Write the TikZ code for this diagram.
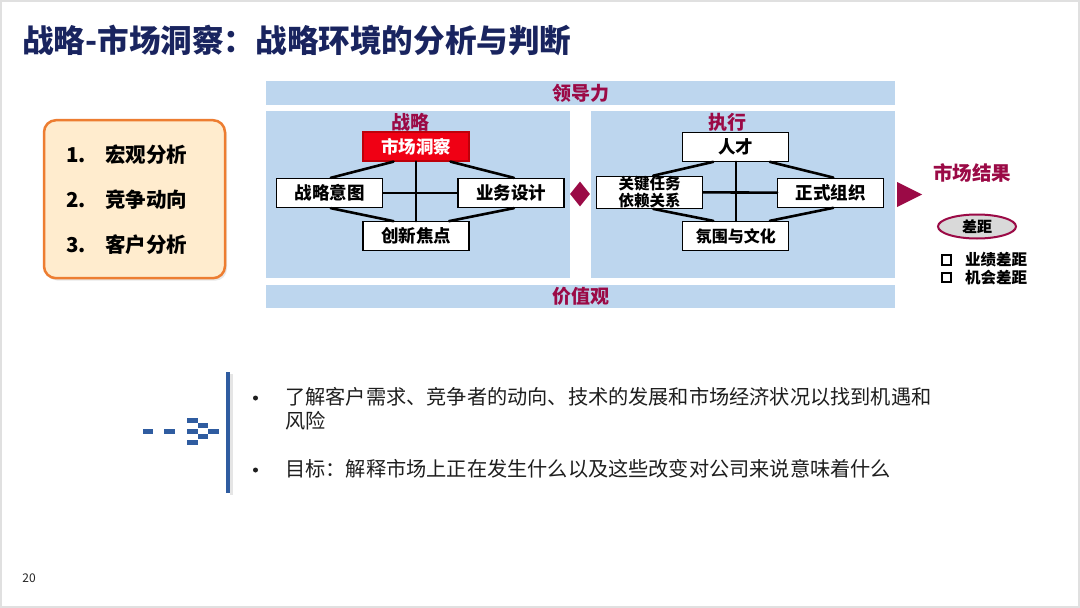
\documentclass[tikz,border=0pt]{standalone}
\usepackage{fontspec}
\setmainfont{Noto Sans CJK SC}
\usetikzlibrary{shapes.geometric,shadows}
\definecolor{navy}{RGB}{25,36,95}
\definecolor{maroon}{RGB}{155,10,70}
\definecolor{band}{RGB}{189,214,238}
\definecolor{peach}{RGB}{255,236,206}
\definecolor{orng}{RGB}{237,125,49}
\definecolor{redbox}{RGB}{240,0,20}
\definecolor{darkred}{RGB}{190,0,10}
\definecolor{blueline}{RGB}{47,92,160}
\definecolor{bodytxt}{RGB}{30,30,30}
\begin{document}
\begin{tikzpicture}[x=1pt,y=-1pt,
  box/.style={draw=black,line width=1.3pt,fill=white,minimum width=106pt,minimum height=29pt,inner sep=0pt,font=\bfseries\fontsize{17.5}{20}\selectfont},
  redb/.style={box,fill=redbox,draw=darkred,text=white},
  link/.style={line width=2.6pt,line cap=round},
  bandbox/.style={fill=band,inner sep=0pt,text=maroon,font=\bfseries\fontsize{19}{22}\selectfont},
  paneltitle/.style={text=maroon,inner sep=0pt,font=\bfseries\fontsize{19}{22}\selectfont},
  itemnum/.style={anchor=west,inner sep=0pt,font=\bfseries\fontsize{20.5}{24}\selectfont},
  chk/.style={draw=black,line width=2.2pt,minimum size=9.5pt,inner sep=0pt},
  gaptxt/.style={anchor=west,inner sep=0pt,font=\bfseries\fontsize{15.5}{18}\selectfont},
  blk/.style={fill=blueline},
  dot/.style={circle,fill=bodytxt,minimum size=5pt,inner sep=0pt},
  bul/.style={anchor=west,inner sep=0pt,text=bodytxt,font=\fontsize{20.2}{24}\selectfont}
]
\fill[white] (0,0) rectangle (1080,608);
\draw[black!12,line width=2pt] (1,1) rectangle (1079,607);
\useasboundingbox (0,0) rectangle (1080,608);

% title
\node[anchor=west,inner sep=0pt,text=navy,font=\bfseries\fontsize{31.6}{36}\selectfont] (title) at (22,40) {战略-市场洞察：战略环境的分析与判断};

% bands and panels
\node[bandbox,minimum width=629pt,minimum height=24pt] (lead) at (580.5,93) {领导力};
\node[bandbox,minimum width=629pt,minimum height=23pt] (value) at (580.5,296.5) {价值观};
\node[fill=band,minimum width=304pt,minimum height=167pt,inner sep=0pt] (lp) at (418,194.5) {};
\node[fill=band,minimum width=304pt,minimum height=167pt,inner sep=0pt] (rp) at (743,194.5) {};
\node[paneltitle] (t1) at (410,122) {战略};
\node[paneltitle] (t2) at (727,122) {执行};

% left panel
\node[redb] (ms) at (416,146.5) {市场洞察};
\node[box] (zl) at (329.7,193) {战略意图};
\node[box] (yw) at (511,193) {业务设计};
\node[box] (cx) at (416,236.3) {创新焦点};
\draw[link] (ms.south) -- (cx.north);
\draw[link] (zl.east) -- (yw.west);
\draw[link] ([xshift=-22.5pt]ms.south) -- ([xshift=1pt]zl.north);
\draw[link] ([xshift=34.5pt]ms.south) -- ([xshift=3pt]yw.north);
\draw[link] ([xshift=1pt]zl.south) -- ([xshift=-22.5pt]cx.north);
\draw[link] ([xshift=3pt]yw.south) -- ([xshift=33pt]cx.north);

% right panel
\node[box] (rc) at (735.8,146.7) {人才};
\node[box,font=\bfseries\fontsize{15.5}{17}\selectfont,align=center] (gj) at (649.7,192.3) {关键任务\\依赖关系};
\node[box] (zs) at (830.8,192.7) {正式组织};
\node[box,font=\bfseries\fontsize{16}{18}\selectfont] (fw) at (735.8,236) {氛围与文化};
\draw[link] (rc.south) -- (fw.north);
\draw[link] (gj.east) -- (zs.west);
\draw[link] ([xshift=-22.5pt]rc.south) -- ([xshift=3.5pt]gj.north);
\draw[link] ([xshift=34pt]rc.south) -- ([xshift=2.5pt]zs.north);
\draw[link] ([xshift=3.5pt]gj.south) -- ([xshift=-22.5pt]fw.north);
\draw[link] ([xshift=2.5pt]zs.south) -- ([xshift=34pt]fw.north);

% diamond and arrow
\node[diamond,fill=maroon,minimum width=20pt,minimum height=25pt,inner sep=0pt,shape aspect=0.8] (dia) at (580,194) {};
\fill[maroon] (897,182) -- (922,194.5) -- (897,207) -- cycle;

% market results
\node[text=maroon,inner sep=0pt,font=\bfseries\fontsize{19.5}{22}\selectfont] (res) at (972,173) {市场结果};
\node[ellipse,draw=maroon,line width=2pt,fill=black!15,minimum width=78pt,minimum height=24pt,inner sep=0pt,font=\bfseries\fontsize{15}{18}\selectfont] (gap) at (977,226.5) {差距};
\node[chk] (c1) at (946.5,260) {};
\node[gaptxt] (g1) at (965,260) {业绩差距};
\node[chk] (c2) at (946.5,277.5) {};
\node[gaptxt] (g2) at (965,277.5) {机会差距};

% left box
\node[draw=orng,line width=2.5pt,fill=peach,rounded corners=12pt,minimum width=181pt,minimum height=158pt,
      drop shadow={opacity=0.18,shadow xshift=2pt,shadow yshift=-2.5pt}] (lb) at (134.5,199.2) {};
\node[itemnum] (n1) at (66,155) {1.};
\node[itemnum] (i1) at (105,155) {宏观分析};
\node[itemnum] (n2) at (66,200) {2.};
\node[itemnum] (i2) at (105,200) {竞争动向};
\node[itemnum] (n3) at (66,245) {3.};
\node[itemnum] (i3) at (105,245) {客户分析};

% dashed arrow icon
\fill[blk] (142.7,429) rectangle (152.7,434);
\fill[blk] (164.3,429) rectangle (175,434);
\fill[blk] (187.3,417.8) rectangle (197.8,422.8);
\fill[blk] (197.8,423.3) rectangle (208.3,428.3);
\fill[blk] (187.3,428.8) rectangle (197.8,433.8);
\fill[blk] (208.3,428.8) rectangle (219.3,433.8);
\fill[blk] (197.8,434.3) rectangle (208.3,439.3);
\fill[blk] (187.3,439.8) rectangle (197.8,444.8);
\draw[black!10,line width=3pt] (231,374) -- (231,495);
\draw[blueline,line width=3.5pt] (228,372) -- (228,493);

% bullets
\node[dot] (d1) at (255.5,398) {};
\node[bul] (b1) at (285,397) {了解客户需求、竞争者的动向、技术的发展和市场经济状况以找到机遇和};
\node[bul] (b1b) at (285,421) {风险};
\node[dot] (d2) at (255.5,470) {};
\node[bul] (b2) at (285,469) {目标：解释市场上正在发生什么以及这些改变对公司来说意味着什么};

% page number
\node[inner sep=0pt,text=black!85,font=\fontsize{12}{14}\selectfont] (pg) at (29,578) {20};
\end{tikzpicture}
\end{document}
